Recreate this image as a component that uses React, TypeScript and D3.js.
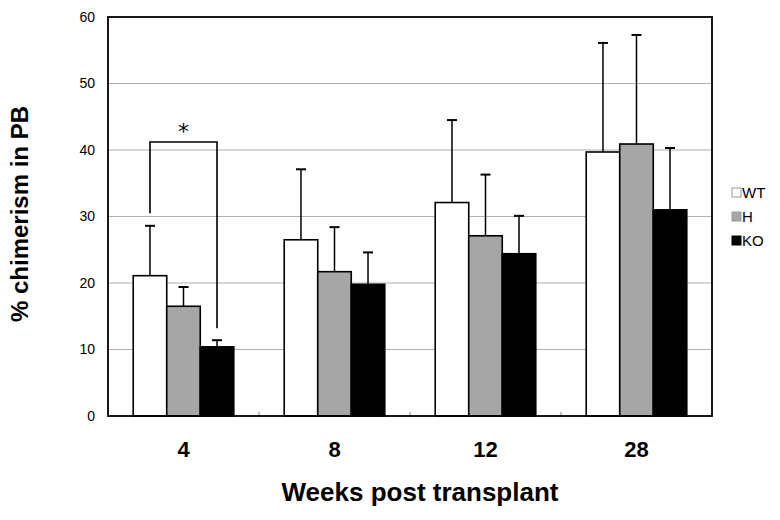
import React from "react";
import * as d3 from "d3";

const categories = ["4", "8", "12", "28"];
const seriesNames = ["WT", "H", "KO"];
const wtMeans = [21.1, 26.5, 32.1, 39.7];
const wtErr = [7.5, 10.6, 12.4, 16.4];
const hMeans = [16.5, 21.7, 27.1, 40.9];
const hErr = [2.9, 6.7, 9.2, 16.4];
const koMeans = [10.4, 19.8, 24.4, 31.0];
const koErr = [1.0, 4.8, 5.7, 9.3];
const yTicks = [0, 10, 20, 30, 40, 50, 60];
const fills = ["#ffffff", "#a6a6a6", "#000000"];

const W = 780, H = 520;
const left = 108, right = 712, top = 17, bottom = 416;

export default function App() {
  const x = d3.scaleBand<string>().domain(categories).range([left, right]).paddingInner(0).paddingOuter(0);
  const y = d3.scaleLinear().domain([0, 60]).range([bottom, top]);
  const bw = x.bandwidth();
  const barW = bw * 0.222;
  const x1 = d3.scaleBand<string>().domain(seriesNames).range([0, barW * 3]);
  const offs = (bw - barW * 3) / 2;
  const means = [wtMeans, hMeans, koMeans];
  const errs = [wtErr, hErr, koErr];

  const barX = (ci: number, si: number) => (x(categories[ci]) as number) + offs + (x1(seriesNames[si]) as number);

  // bracket between WT and KO at week 4
  const bx1 = barX(0, 0) + barW / 2;
  const bx2 = barX(0, 2) + barW / 2;
  const bTop = y(41.2);

  return (
    <svg width={W} height={H} style={{ display: "block", position: "absolute", left: 0, top: 0 }} fontFamily="'Liberation Sans', Arial, sans-serif">
      <rect x={0} y={0} width={W} height={H} fill="#fff" />
      {yTicks.filter(t => t > 0 && t < 60).map(t => (
        <line key={t} x1={left} x2={right} y1={y(t)} y2={y(t)} stroke="#b0b0b0" strokeWidth={1.2} />
      ))}
      {categories.slice(1).map(c => (
        <line key={c} x1={x(c) as number} x2={x(c) as number} y1={bottom} y2={bottom - 4} stroke="#888" strokeWidth={1} />
      ))}
      {categories.map((c, ci) => seriesNames.map((s, si) => {
        const bx = barX(ci, si);
        const v = means[si][ci];
        const e = errs[si][ci];
        const cx = bx + barW / 2;
        return (
          <g key={c + s}>
            <line x1={cx} x2={cx} y1={y(v)} y2={y(v + e)} stroke="#000" strokeWidth={1.5} />
            <line x1={cx - 5} x2={cx + 5} y1={y(v + e)} y2={y(v + e)} stroke="#000" strokeWidth={2} />
            <rect x={bx} y={y(v)} width={barW} height={bottom - y(v)} fill={fills[si]} stroke="#000" strokeWidth={1.6} />
          </g>
        );
      }))}
      <path d={`M${bx1},${y(30.5)}V${bTop}H${bx2}V${y(13.2)}`} fill="none" stroke="#000" strokeWidth={1.6} />
      <text x={(bx1 + bx2) / 2} y={bTop - 3} textAnchor="middle" fontSize={22} fontFamily="'DejaVu Sans', sans-serif">*</text>
      <rect x={left} y={top} width={right - left} height={bottom - top} fill="none" stroke="#000" strokeWidth={1.8} />
      {yTicks.map(t => (
        <text key={t} x={95} y={y(t)} dy="0.35em" textAnchor="end" fontSize={14} fill="#000">{t}</text>
      ))}
      {categories.map(c => (
        <text key={c} x={(x(c) as number) + bw / 2} y={457} textAnchor="middle" fontSize={22} fontWeight="bold">{c}</text>
      ))}
      <text x={420} y={501} textAnchor="middle" fontSize={26} fontWeight="bold">Weeks post transplant</text>
      <text transform={`translate(28,214) rotate(-90)`} textAnchor="middle" fontSize={24} fontWeight="bold">% chimerism in PB</text>
      {seriesNames.map((s, i) => (
        <g key={s} transform={`translate(732,${188 + i * 24})`}>
          <rect x={0} y={0} width={9} height={9} fill={fills[i]} stroke={i === 2 ? "#000" : "#999"} strokeWidth={1} />
          <text x={10} y={5} dy="0.35em" fontSize={15}>{s}</text>
        </g>
      ))}
    </svg>
  );
}
